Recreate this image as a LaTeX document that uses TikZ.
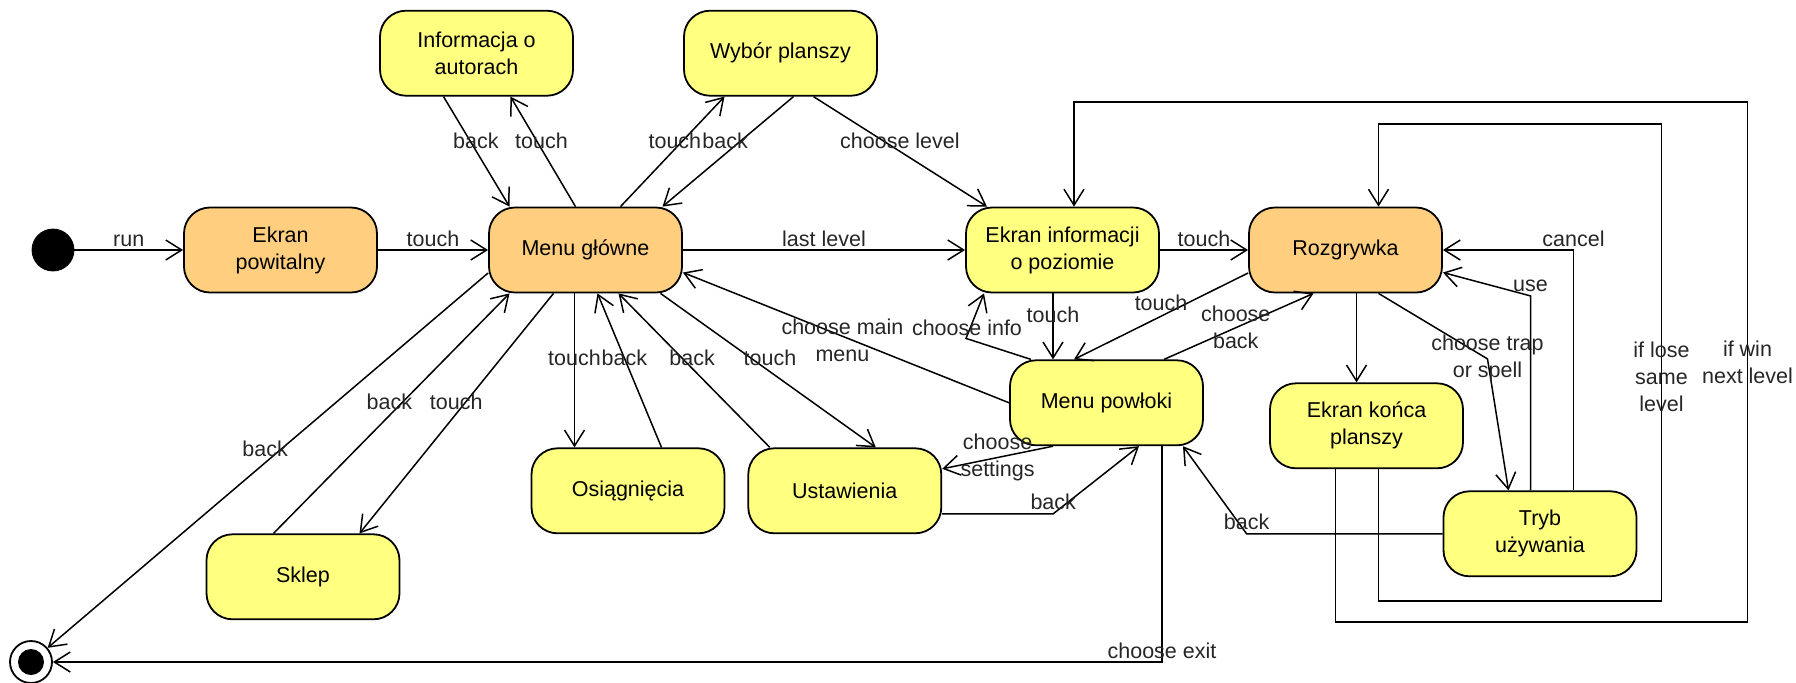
\documentclass[tikz,border=0pt]{standalone}
\usepackage{fontspec}
\setmainfont{Liberation Sans}
\usepackage{tikz}
\usetikzlibrary{shapes,arrows.meta,positioning}
\definecolor{screenorange}{RGB}{255,207,127}
\definecolor{screenyellow}{RGB}{255,255,128}
\tikzstyle{screen} = [rectangle, rounded corners=13pt, draw, line width=0.9pt, fill=screenyellow, minimum width=96.5pt, minimum height=42.5pt, align=center]
\tikzstyle{mainscreen} = [screen, fill=screenorange]
\tikzstyle{arrow} = [line width=0.75pt,->,>={Straight Barb[length=8pt,width=10pt]}]
\tikzstyle{lbl} = [text=black!85, align=center, inner sep=1.5pt]

\begin{document}
\begin{tikzpicture}[x=0.5pt, y=-0.5pt, every node/.style={font=\fontsize{10.75}{13.5}\selectfont}]
            \useasboundingbox (0,0) rectangle (1796,682);
            % 状态节点
            \node[draw, circle, fill=black, minimum size=21pt, inner sep=0pt] (start) at (53,250) {};
            \node[mainscreen, right=54.35pt of start] (ekranp) {Ekran\\powitalny};
            \node[mainscreen, right=55.1pt of ekranp] (menu) {Menu główne};
            \node[screen, right=141.1pt of menu] (info) {Ekran informacji\\o poziomie};
            \node[mainscreen, right=44.1pt of info] (gra) {Rozgrywka};
            \node[screen, above=55pt of menu, xshift=-54.5pt] (autorzy) {Informacja o\\autorach};
            \node[screen, above=55pt of menu, xshift=97.5pt] (wybor) {Wybór planszy};
            \node[screen, below=77pt of menu, xshift=21.25pt] (osiag) {Osiągnięcia};
            \node[screen, right=11pt of osiag] (ustaw) {Ustawienia};
            \node[screen, below=120pt of menu, xshift=-141.25pt] (sklep) {Sklep};
            \node[screen, below=33pt of info, xshift=22pt] (powloki) {Menu powłoki};
            \node[screen, below=44.5pt of gra, xshift=10.5pt] (koniec) {Ekran końca\\planszy};
            \node[screen, below=98.5pt of gra, xshift=97.25pt] (tryb) {Tryb\\używania};
            \node[draw, circle, fill=white, line width=0.9pt, minimum size=21pt, inner sep=0pt,
                  path picture={\fill[black] (path picture bounding box.center) circle (6.5pt);}] (stop) at (31,662) {};

            % 主行
            \draw[arrow] (start) -- node[lbl, above] {run} (ekranp);
            \draw[arrow] (ekranp) -- node[lbl, above] {touch} (menu);
            \draw[arrow] (menu) -- node[lbl, above] {last level} (info);
            \draw[arrow] (info) -- node[lbl, above] {touch} (gra);

            % 主菜单上方
            \draw[arrow] ([xshift=-16.5pt]autorzy.south) -- node[lbl, pos=0.4, xshift=3pt] {back} ([xshift=-38pt]menu.north);
            \draw[arrow] ([xshift=-5pt]menu.north) -- node[lbl, pos=0.6, xshift=2.5pt] {touch} ([xshift=17pt]autorzy.south);
            \draw[arrow] ([xshift=17.5pt]menu.north) -- node[lbl, pos=0.6, xshift=-4pt] {touch} ([xshift=-28pt]wybor.south);
            \draw[arrow] ([xshift=6.5pt]wybor.south) -- node[lbl, pos=0.4, xshift=-8pt] {back} ([xshift=38.5pt]menu.north);
            \draw[arrow] ([xshift=16.5pt]wybor.south) -- node[lbl, pos=0.4, xshift=8.5pt] {choose level} ([xshift=-37.75pt]info.north);

            % 主菜单下方
            \draw[arrow] ([xshift=-5.5pt]menu.south) -- node[lbl, pos=0.42] {touch} ([xshift=-26.75pt]osiag.north);
            \draw[arrow] ([xshift=16.75pt]osiag.north) -- node[lbl, pos=0.58] {back} ([xshift=6pt]menu.south);
            \draw[arrow] ([xshift=-37.5pt]ustaw.north) -- node[lbl, pos=0.58, xshift=5pt] {back} ([xshift=16.5pt]menu.south);
            \draw[arrow] ([xshift=37.5pt]menu.south) -- node[lbl, pos=0.42, xshift=9.5pt] {touch} ([xshift=15.5pt]ustaw.north);
            \draw[arrow] ([xshift=-16pt]menu.south) -- node[lbl, pos=0.45, xshift=-5pt] {touch} ([xshift=28.25pt]sklep.north);
            \draw[arrow] ([xshift=-14.75pt]sklep.north) -- node[lbl, pos=0.55, xshift=-7pt] {back} ([xshift=-38pt]menu.south);
            \draw[arrow] ([yshift=-11.5pt]menu.west) -- node[lbl, pos=0.47, xshift=-8pt] {back} (stop);

            % 游戏部分
            \draw[arrow] ([xshift=-4.75pt]info.south) -- node[lbl, pos=0.33] {touch} ([xshift=-26.75pt]powloki.north);
            \draw[arrow] ([yshift=-11.5pt]gra.west) -- node[lbl, pos=0.5, yshift=6.5pt] {touch} ([xshift=-16.25pt]powloki.north);
            \draw[arrow] ([xshift=28.75pt]powloki.north) -- node[lbl, pos=0.48] {choose\\back} ([xshift=-16pt]gra.south);
            \draw[arrow] ([xshift=-37.75pt]powloki.north) -- ([xshift=-48.25pt,yshift=-22.5pt]info.south)
                node[lbl, xshift=0.5pt, yshift=5.5pt] {choose info} -- ([xshift=-39.25pt]info.south);
            \draw[arrow] (powloki.west) -- node[lbl, pos=0.52, xshift=1.5pt, yshift=-2.5pt] {choose main\\menu} ([yshift=-11.25pt]menu.east);
            \draw[arrow] ([xshift=-26.75pt]powloki.south) -- node[lbl, pos=0.5] {choose\\settings} ([yshift=11pt]ustaw.east);
            \draw[arrow] ([yshift=-11.5pt]ustaw.east) -- ++(55.5pt,0) node[lbl, above] {back} -- ([xshift=16.25pt]powloki.south);
            \draw[arrow] ([xshift=27.75pt]powloki.south) |- node[lbl, pos=0.5, above] {choose exit} (stop);

            \draw[arrow] ([xshift=5.5pt]gra.south) -- ([xshift=-5pt]koniec.north);
            \draw[arrow] ([xshift=16.5pt]gra.south) -- ([xshift=-26.25pt,yshift=65.75pt]tryb.north)
                node[lbl] {choose trap\\or spell} -- ([xshift=-15.75pt]tryb.north);
            \draw[arrow] ([xshift=-4.75pt]tryb.north) -- ++(0,97.25pt) node[lbl, above] {use} -- ([yshift=-11.25pt]gra.east);
            \draw[arrow] ([xshift=16.75pt]tryb.north) |- node[lbl, pos=0.5, above] {cancel} (gra.east);
            \draw[arrow] (tryb.west) -- ++(-98pt,0) node[lbl, above] {back} -- ([xshift=38.25pt]powloki.south);

            % 结束后的转移
            \draw[arrow] ([xshift=6pt]koniec.south) -- ++(0,-66pt) -- ++(141.5pt,0)
                -- node[lbl, pos=0.47] {if lose\\same\\level} ++(0,238.5pt) -| ([xshift=16.5pt]gra.north);
            \draw[arrow] ([xshift=-15.5pt]koniec.south) -- ++(0,-76.5pt) -- ++(206pt,0)
                -- node[lbl, pos=0.5] {if win\\next level} ++(0,260pt) -| ([xshift=5.75pt]info.north);
        \end{tikzpicture}
\end{document}
